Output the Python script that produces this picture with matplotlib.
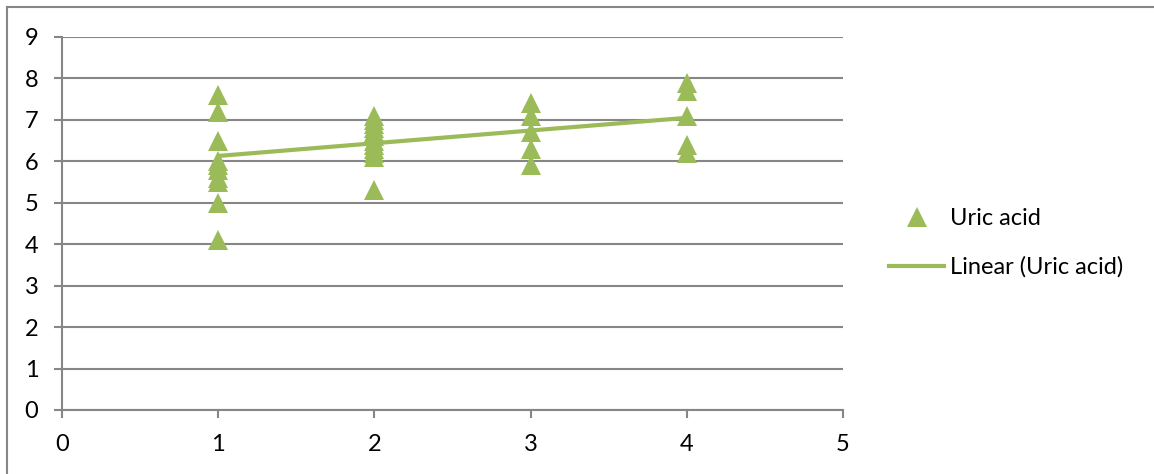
import matplotlib
matplotlib.use('Agg')
import matplotlib.pyplot as plt
from matplotlib.lines import Line2D
import numpy as np

# uric acid readings grouped by class (1..4)
grp1 = [7.6, 7.2, 6.5, 6.0, 5.9, 5.8, 5.6, 5.5, 5.0, 4.1]
grp2 = [7.1, 7.0, 6.9, 6.8, 6.7, 6.6, 6.5, 6.4, 6.3, 6.2, 6.1, 5.3]
grp3 = [7.4, 7.1, 6.7, 6.3, 5.9]
grp4 = [7.9, 7.7, 7.1, 6.4, 6.2]
groups = [1, 2, 3, 4]
series_name = 'Uric acid'

# linear trendline as shown on the chart (value at first and last class)
trend_x = [1, 4]
trend_y = [6.13, 7.05]

green = '#9BBB59'
grey = '#868686'
fs = 17

plt.rcParams['font.family'] = ['Lato', 'DejaVu Sans']

xs = []
ys = []
for g, vals in zip(groups, [grp1, grp2, grp3, grp4]):
    xs.extend([g] * len(vals))
    ys.extend(vals)

fig = plt.figure(figsize=(11.54, 4.74), dpi=100)
ax = fig.add_axes([62 / 1154, 64 / 474, 781 / 1154, 373 / 474])

ax.plot(xs, ys, linestyle='none', marker='^', markersize=14.4,
        color=green, markeredgewidth=0, zorder=3)
ax.plot(trend_x, trend_y, color=green, linewidth=3, zorder=4,
        solid_capstyle='butt')

ax.set_xlim(0, 5)
ax.set_ylim(0, 9)
ax.set_xticks(range(6))
ax.set_yticks(range(10))
ax.yaxis.grid(True, color=grey, linewidth=1.5)
ax.set_axisbelow(True)
for s in ['top', 'right']:
    ax.spines[s].set_visible(False)
for s in ['left', 'bottom']:
    ax.spines[s].set_color(grey)
    ax.spines[s].set_linewidth(1.5)
ax.tick_params(axis='both', colors=grey, width=1.5, length=6,
               labelcolor='black', labelsize=fs)
ax.tick_params(axis='x', pad=11)
ax.tick_params(axis='y', pad=11)

# outer chart border
fig.add_artist(Line2D([7 / 1154, 1.0], [1 - 7 / 474, 1 - 7 / 474],
                      color=grey, linewidth=1.5))
fig.add_artist(Line2D([7 / 1154, 7 / 1154], [0, 1 - 7 / 474],
                      color=grey, linewidth=1.5))

handles = [
    Line2D([], [], linestyle='none', marker='^', markersize=14.4,
           color=green, markeredgewidth=0),
    Line2D([], [], color=green, linewidth=3),
]
fig.legend(handles, [series_name, 'Linear (%s)' % series_name],
           loc='center left', bbox_to_anchor=(889 / 1154, 1 - 243 / 474),
           frameon=False, fontsize=fs, handlelength=2.35, handletextpad=0.25,
           labelspacing=1.15, borderaxespad=0, borderpad=0)

fig.savefig('out.png', dpi=100)
